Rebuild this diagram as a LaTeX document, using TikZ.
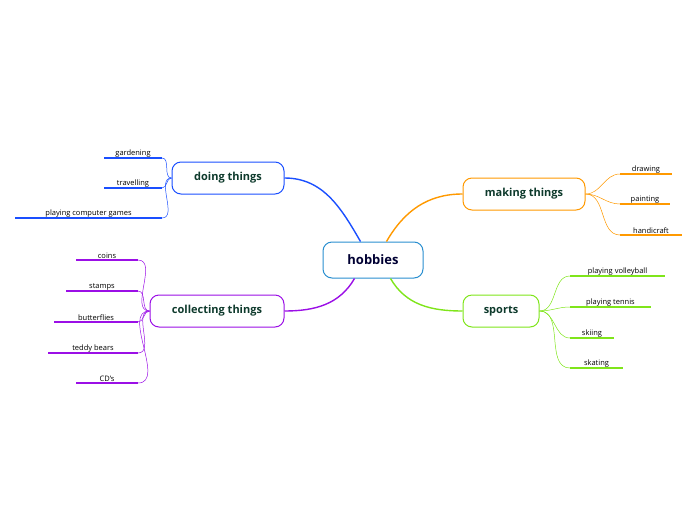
\documentclass[tikz,border=0pt]{standalone}
\usepackage{fontspec}
\setmainfont{Open Sans}
\usetikzlibrary{positioning,calc}
\definecolor{cdoing}{HTML}{1A4FFF}
\definecolor{cmaking}{HTML}{FF9900}
\definecolor{ccollect}{HTML}{9B0FE6}
\definecolor{csports}{HTML}{7FE51A}
\definecolor{ccentre}{HTML}{2A8FD0}
\definecolor{ctext}{HTML}{0E3A2C}
\tikzset{
  topic/.style={draw, rounded corners=9pt, fill=white, line width=1pt, minimum height=32pt,
    inner xsep=10pt, font=\fontsize{11}{13}\selectfont\bfseries, text=ctext},
  leaf/.style={font=\fontsize{7.5}{9}\selectfont, text=black, inner sep=1pt, anchor=south},
  link/.style={line width=1.4pt},
  twig/.style={line width=0.5pt}
}
\begin{document}
\begin{tikzpicture}[x=1pt,y=-1pt]
  \useasboundingbox (0,0) rectangle (696,520);

  \node[topic, draw=ccentre, minimum width=100pt, minimum height=36pt, text=black!80!blue,
        font=\fontsize{13}{15}\selectfont\bfseries] (hobbies) at (373,260) {hobbies};
  \node[topic, draw=cdoing, minimum width=112pt] (doing) at (228,178) {doing things};
  \node[topic, draw=cmaking, minimum width=122pt] (making) at (524,194) {making things};
  \node[topic, draw=ccollect, minimum width=134pt] (collect) at (217,311) {collecting things};
  \node[topic, draw=csports, minimum width=76pt] (sports) at (501,311) {sports};

  % main branches
  \draw[link, cdoing] (hobbies.north west) ++(38,0) coordinate (h1) to[out=120,in=0] (doing.east);
  \draw[link, cmaking] (hobbies.north west) ++(64,0) coordinate (h2) to[out=60,in=180] (making.west);
  \draw[link, ccollect] (hobbies.south west) ++(32,0) coordinate (h3) to[out=240,in=0] (collect.east);
  \draw[link, csports] (hobbies.south west) ++(68,0) coordinate (h4) to[out=300,in=180] (sports.west);

  % doing things
  \foreach \txt/\xa/\y [count=\i] in {gardening/104/158, travelling/104/188, playing computer games/15/218} {
    \coordinate (d\i a) at (\xa,\y);
    \coordinate (d\i b) at (162,\y);
    \draw[link, cdoing] (d\i a) -- (d\i b);
    \node[leaf] (dl\i) at ($(d\i a)!0.5!(d\i b)$) {\txt};
    \draw[twig, cdoing] (doing.west) to[out=180,in=0] (d\i b);
  }
  % making things
  \foreach \txt/\xb/\y [count=\i] in {drawing/672/174, painting/670/204, handicraft/682/235} {
    \coordinate (m\i a) at (620,\y);
    \coordinate (m\i b) at (\xb,\y);
    \draw[link, cmaking] (m\i a) -- (m\i b);
    \node[leaf] (ml\i) at ($(m\i a)!0.5!(m\i b)$) {\txt};
    \draw[twig, cmaking] (making.east) to[out=0,in=180] (m\i a);
  }
  % collecting things
  \foreach \txt/\xa/\y [count=\i] in {coins/76/260, stamps/66/291, butterflies/54/322, teddy bears/48/353, CD's/76/383} {
    \coordinate (c\i a) at (\xa,\y);
    \coordinate (c\i b) at (138,\y);
    \draw[link, ccollect] (c\i a) -- (c\i b);
    \node[leaf] (cl\i) at ($(c\i a)!0.5!(c\i b)$) {\txt};
    \draw[twig, ccollect] (collect.west) to[out=180,in=0] (c\i b);
  }
  % sports
  \foreach \txt/\xb/\y [count=\i] in {playing volleyball/665/276, playing tennis/651/307, skiing/614/338, skating/623/368} {
    \coordinate (s\i a) at (570,\y);
    \coordinate (s\i b) at (\xb,\y);
    \draw[link, csports] (s\i a) -- (s\i b);
    \node[leaf] (sl\i) at ($(s\i a)!0.5!(s\i b)$) {\txt};
    \draw[twig, csports] (sports.east) to[out=0,in=180] (s\i a);
  }
\end{tikzpicture}
\end{document}
